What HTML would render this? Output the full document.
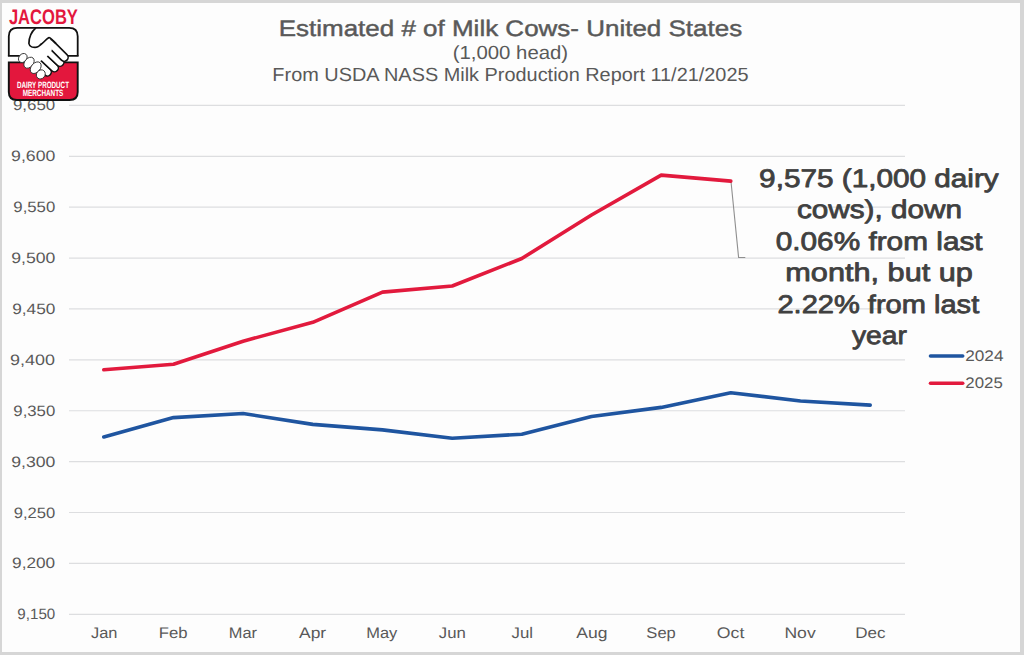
<!DOCTYPE html>
<html><head><meta charset="utf-8">
<style>
html,body{margin:0;padding:0;background:#d6d6d6;}
body{width:1024px;height:655px;overflow:hidden;position:relative;}
svg{position:absolute;left:0;top:0;display:block;}
text{font-family:"Liberation Sans",sans-serif;text-rendering:geometricPrecision;}
</style></head>
<body>
<svg id="c" width="1024" height="655" viewBox="0 0 1024 655">
<rect x="0" y="0" width="1024" height="655" fill="#d6d6d6"/>
<rect x="2" y="3" width="1018" height="649" fill="#fdfdfd"/>
<g stroke="#dddee0" stroke-width="1.2" fill="none"><line x1="69" x2="905" y1="105.40" y2="105.40"/><line x1="69" x2="905" y1="156.29" y2="156.29"/><line x1="69" x2="905" y1="207.18" y2="207.18"/><line x1="69" x2="905" y1="258.07" y2="258.07"/><line x1="69" x2="905" y1="308.96" y2="308.96"/><line x1="69" x2="905" y1="359.85" y2="359.85"/><line x1="69" x2="905" y1="410.74" y2="410.74"/><line x1="69" x2="905" y1="461.63" y2="461.63"/><line x1="69" x2="905" y1="512.52" y2="512.52"/><line x1="69" x2="905" y1="563.41" y2="563.41"/><line x1="69" x2="905" y1="614.30" y2="614.30"/></g>
<polyline points="731,181.5 738.6,257.5 745.3,257.5" fill="none" stroke="#8f8f8f" stroke-width="1.1"/>
<polyline fill="none" stroke="#1f55a0" stroke-width="3.6" stroke-linejoin="round" stroke-linecap="round" points="103.8,436.9 173.5,417.6 243.1,413.5 312.8,424.4 382.5,429.9 452.2,438.3 521.8,434.2 591.5,416.5 661.2,407.4 730.8,392.7 800.5,401.0 870.2,405.1"/>
<polyline fill="none" stroke="#e21a3d" stroke-width="3.6" stroke-linejoin="round" stroke-linecap="round" points="103.8,369.8 173.5,364.2 243.1,341.2 312.8,322.3 382.5,292.1 452.2,286.0 521.8,258.5 591.5,215.0 661.2,175.1 730.8,181.1"/>
<line x1="930.5" x2="962.7" y1="356.0" y2="356.0" stroke="#1f55a0" stroke-width="3.6" stroke-linecap="round"/>
<line x1="930.5" x2="962.7" y1="383.2" y2="383.2" stroke="#e21a3d" stroke-width="3.6" stroke-linecap="round"/>
<text x="12.90" y="110.4" font-size="15" fill="#595959" textLength="42.36" lengthAdjust="spacingAndGlyphs">9,650</text>
<text x="11.07" y="161.29" font-size="15" fill="#595959" textLength="44.31" lengthAdjust="spacingAndGlyphs">9,600</text>
<text x="13.32" y="212.18" font-size="15" fill="#595959" textLength="41.95" lengthAdjust="spacingAndGlyphs">9,550</text>
<text x="11.32" y="263.07" font-size="15" fill="#595959" textLength="44.13" lengthAdjust="spacingAndGlyphs">9,500</text>
<text x="12.24" y="313.96" font-size="15" fill="#595959" textLength="43.19" lengthAdjust="spacingAndGlyphs">9,450</text>
<text x="10.14" y="364.85" font-size="15" fill="#595959" textLength="44.96" lengthAdjust="spacingAndGlyphs">9,400</text>
<text x="13.32" y="415.74" font-size="15" fill="#595959" textLength="41.95" lengthAdjust="spacingAndGlyphs">9,350</text>
<text x="11.32" y="466.63" font-size="15" fill="#595959" textLength="44.13" lengthAdjust="spacingAndGlyphs">9,300</text>
<text x="13.71" y="517.52" font-size="15" fill="#595959" textLength="41.56" lengthAdjust="spacingAndGlyphs">9,250</text>
<text x="12.09" y="568.41" font-size="15" fill="#595959" textLength="43.12" lengthAdjust="spacingAndGlyphs">9,200</text>
<text x="17.39" y="619.3" font-size="15" fill="#595959" textLength="37.89" lengthAdjust="spacingAndGlyphs">9,150</text>
<text x="90.96" y="637.6" font-size="15.4" fill="#595959" textLength="26.49" lengthAdjust="spacingAndGlyphs">Jan</text>
<text x="158.72" y="637.6" font-size="15.4" fill="#595959" textLength="28.86" lengthAdjust="spacingAndGlyphs">Feb</text>
<text x="228.81" y="637.6" font-size="15.4" fill="#595959" textLength="28.22" lengthAdjust="spacingAndGlyphs">Mar</text>
<text x="299.04" y="637.6" font-size="15.4" fill="#595959" textLength="27.15" lengthAdjust="spacingAndGlyphs">Apr</text>
<text x="366.22" y="637.6" font-size="15.4" fill="#595959" textLength="31.04" lengthAdjust="spacingAndGlyphs">May</text>
<text x="438.84" y="637.6" font-size="15.4" fill="#595959" textLength="27.00" lengthAdjust="spacingAndGlyphs">Jun</text>
<text x="511.56" y="637.6" font-size="15.4" fill="#595959" textLength="21.48" lengthAdjust="spacingAndGlyphs">Jul</text>
<text x="576.29" y="637.6" font-size="15.4" fill="#595959" textLength="31.20" lengthAdjust="spacingAndGlyphs">Aug</text>
<text x="646.36" y="637.6" font-size="15.4" fill="#595959" textLength="29.44" lengthAdjust="spacingAndGlyphs">Sep</text>
<text x="716.85" y="637.6" font-size="15.4" fill="#595959" textLength="27.50" lengthAdjust="spacingAndGlyphs">Oct</text>
<text x="784.44" y="637.6" font-size="15.4" fill="#595959" textLength="31.24" lengthAdjust="spacingAndGlyphs">Nov</text>
<text x="855.18" y="637.6" font-size="15.4" fill="#595959" textLength="30.30" lengthAdjust="spacingAndGlyphs">Dec</text>
<text x="278.74" y="35.5" font-size="22.4" fill="#595959" stroke="#595959" stroke-width="0.45" stroke-linejoin="round" textLength="463.40" lengthAdjust="spacingAndGlyphs">Estimated # of Milk Cows- United States</text>
<text x="452.69" y="58.6" font-size="19.0" fill="#595959" textLength="115.45" lengthAdjust="spacingAndGlyphs">(1,000 head)</text>
<text x="272.37" y="80.5" font-size="19.0" fill="#595959" textLength="476.20" lengthAdjust="spacingAndGlyphs">From USDA NASS Milk Production Report 11/21/2025</text>
<text x="759.13" y="186.7" font-size="25.5" fill="#404040" stroke="#404040" stroke-width="0.8" stroke-linejoin="round" textLength="239.59" lengthAdjust="spacingAndGlyphs">9,575 (1,000 dairy</text>
<text x="796.98" y="218.25" font-size="25.5" fill="#404040" stroke="#404040" stroke-width="0.8" stroke-linejoin="round" textLength="164.95" lengthAdjust="spacingAndGlyphs">cows), down</text>
<text x="775.68" y="249.8" font-size="25.5" fill="#404040" stroke="#404040" stroke-width="0.8" stroke-linejoin="round" textLength="206.97" lengthAdjust="spacingAndGlyphs">0.06% from last</text>
<text x="785.33" y="281.35" font-size="25.5" fill="#404040" stroke="#404040" stroke-width="0.8" stroke-linejoin="round" textLength="187.52" lengthAdjust="spacingAndGlyphs">month, but up</text>
<text x="777.48" y="312.9" font-size="25.5" fill="#404040" stroke="#404040" stroke-width="0.8" stroke-linejoin="round" textLength="201.73" lengthAdjust="spacingAndGlyphs">2.22% from last</text>
<text x="851.90" y="344.45" font-size="25.5" fill="#404040" stroke="#404040" stroke-width="0.8" stroke-linejoin="round" textLength="55.03" lengthAdjust="spacingAndGlyphs">year</text>
<text x="965.21" y="360.7" font-size="15.3" fill="#595959" textLength="38.30" lengthAdjust="spacingAndGlyphs">2024</text>
<text x="965.35" y="388.2" font-size="15.3" fill="#595959" textLength="37.41" lengthAdjust="spacingAndGlyphs">2025</text>
<g>
<text x="8.9" y="24.0" fill="#e3173d" font-size="21" font-weight="bold" textLength="69.0" lengthAdjust="spacingAndGlyphs">JACOBY</text>
<path d="M8.8,55.8 L8.8,36.3 Q8.8,27.8 17.3,27.8 L69.2,27.8 Q77.7,27.8 77.7,36.3 L77.7,55.8" fill="#ffffff" stroke="#111" stroke-width="1.8"/>
<line x1="7.9" x2="78.6" y1="55.8" y2="55.8" stroke="#111" stroke-width="1.7"/>
<path d="M8.8,62.4 L77.7,62.4 L77.7,92.0 Q77.7,100.0 69.7,100.0 L16.8,100.0 Q8.8,100.0 8.8,92.0 Z" fill="#e3173d" stroke="#111" stroke-width="1.9"/>
<text x="17.0" y="87.9" fill="#fff" font-size="9.2" font-weight="bold" textLength="52" lengthAdjust="spacingAndGlyphs">DAIRY PRODUCT</text>
<text x="22.7" y="96.1" fill="#fff" font-size="9.2" font-weight="bold" textLength="40.6" lengthAdjust="spacingAndGlyphs">MERCHANTS</text>
<g stroke-linecap="round" fill="none">
  <line x1="31.4" y1="57.1" x2="47.4" y2="72.1" stroke="#111" stroke-width="9.2"/>
  <line x1="31.4" y1="57.1" x2="47.4" y2="72.1" stroke="#fff" stroke-width="6.2"/>
  <line x1="38.0" y1="52.5" x2="54.5" y2="67.9" stroke="#111" stroke-width="9.2"/>
  <line x1="38.0" y1="52.5" x2="54.5" y2="67.9" stroke="#fff" stroke-width="6.2"/>
  <line x1="43.5" y1="47.0" x2="60.0" y2="62.4" stroke="#111" stroke-width="9.2"/>
  <line x1="43.5" y1="47.0" x2="60.0" y2="62.4" stroke="#fff" stroke-width="6.2"/>
  <line x1="50.4" y1="43.6" x2="64.2" y2="57.4" stroke="#111" stroke-width="9.4"/>
  <line x1="50.4" y1="43.6" x2="64.2" y2="57.4" stroke="#fff" stroke-width="6.2"/>
</g>
<path d="M35.9,27.8 C31.5,31.5 29,38 28.9,43.5 C29.3,46.5 33,47.6 36.5,47.2 C40.5,46.5 45,40 48.6,37.8 C49.4,37.5 49.9,37.9 50.2,38.6 L50.9,41.5 L51.9,50.0 L47.0,56.4 L40.4,61.0 L35,66 L26,57 L28.5,44 Z" fill="#fff" stroke="none"/>
<path d="M35.9,27.8 C31.5,31.5 29,38 28.9,43.5 C29.3,46.5 33,47.6 36.5,47.2 C40.5,46.5 45,40 48.6,37.8 C49.6,37.4 50.5,38.2 51.4,39.1 L56,43.7" fill="none" stroke="#111" stroke-width="1.7" stroke-linejoin="round"/>
<g fill="#fff" stroke="#333" stroke-width="0.9">
  <ellipse cx="22.8" cy="58.0" rx="4.9" ry="3.9" transform="rotate(-50 22.8 58.0)"/>
  <ellipse cx="29.0" cy="62.7" rx="6.2" ry="4.3" transform="rotate(-50 29.0 62.7)"/>
  <ellipse cx="35.7" cy="67.7" rx="6.6" ry="4.5" transform="rotate(-50 35.7 67.7)"/>
  <ellipse cx="40.8" cy="74.4" rx="4.8" ry="4.2" transform="rotate(-50 40.8 74.4)"/>
</g>
</g>

</svg>
</body></html>
